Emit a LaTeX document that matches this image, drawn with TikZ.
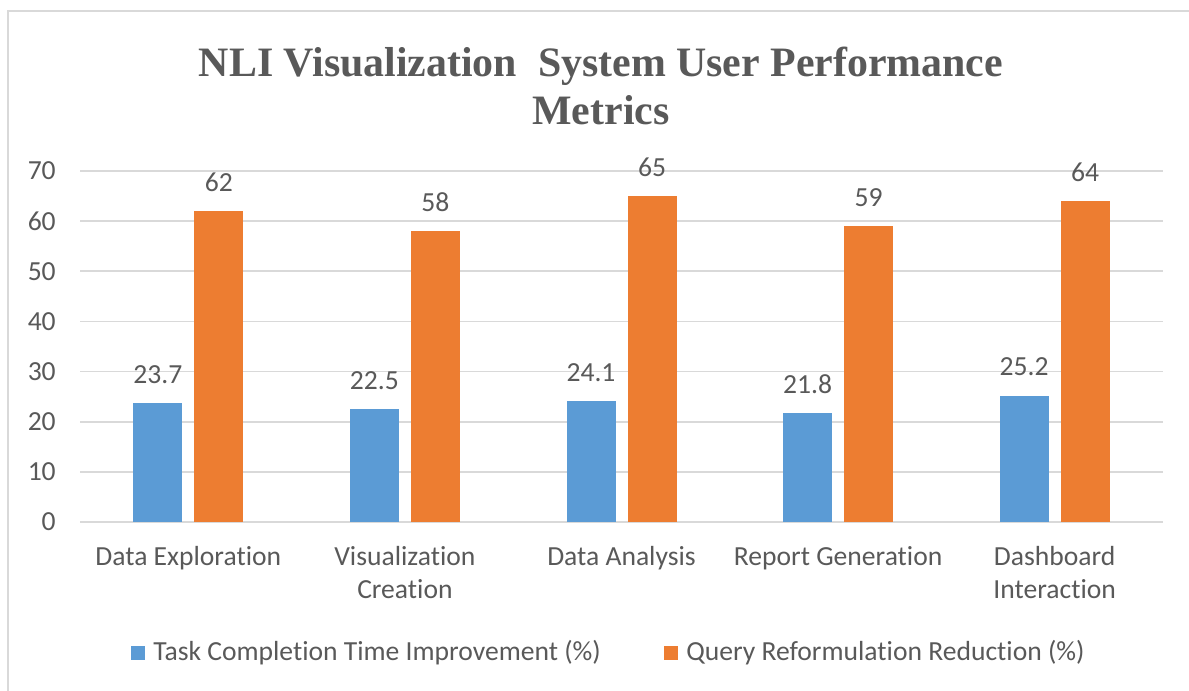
\documentclass[tikz,border=0pt]{standalone}
\usepackage{fontspec}
\setmainfont[Ligatures=NoCommon]{Carlito}
\newfontfamily\titlefont{Liberation Serif}
\definecolor{txtgray}{HTML}{595959}
\definecolor{gridgray}{HTML}{D9D9D9}
\definecolor{framegray}{HTML}{D9D9D9}
\definecolor{barblue}{HTML}{5B9BD5}
\definecolor{barorange}{HTML}{ED7D31}
\tikzset{
  lbl/.style={text=txtgray, font=\fontsize{20.7}{24.75}\selectfont, inner sep=0pt},
  ticklbl/.style={lbl, anchor=east},
  catlbl/.style={lbl, align=center, anchor=north},
  vallbl/.style={lbl},
  bluebar/.style={fill=barblue, draw=none},
  orangebar/.style={fill=barorange, draw=none},
  gridline/.style={draw=gridgray, line width=1.2pt},
  ttl/.style={text=txtgray, font=\titlefont\bfseries\fontsize{31.4}{36}\selectfont, align=center, inner sep=0pt},
}
\begin{document}
\begin{tikzpicture}[x=0.75pt, y=-0.75pt]
\useasboundingbox (0,0) rectangle (1189,691);
% chart frame (left and top edges)
\draw[framegray, line width=2pt] (8,691) -- (8,11) -- (1189,11);
% title
\node[ttl] (title) at (601,86) {NLI Visualization\ \ System User Performance\\Metrics};
% gridlines and tick labels
\foreach \v in {0,10,...,70} {
  \pgfmathsetmacro{\yy}{522-\v*5.014}
  \draw[gridline] (80,\yy) -- (1163,\yy);
  \node[ticklbl] (tick\v) at (56,\yy) {\v};
}
% bars, value labels, category labels
\foreach \i/\b/\o/\cat in {
  0/23.7/62/{Data Exploration},
  1/22.5/58/{Visualization\\Creation},
  2/24.1/65/{Data Analysis},
  3/21.8/59/{Report Generation},
  4/25.2/64/{Dashboard\\Interaction}} {
  \pgfmathsetmacro{\cx}{188.3+\i*216.6}
  \pgfmathsetmacro{\yb}{522-\b*5.014}
  \pgfmathsetmacro{\yo}{522-\o*5.014}
  \fill[bluebar] (\cx-55,522) rectangle (\cx-6,\yb);
  \fill[orangebar] (\cx+6,522) rectangle (\cx+55,\yo);
  \node[vallbl] (vb\i) at (\cx-30.5,\yb-29) {\b};
  \node[vallbl] (vo\i) at (\cx+30.5,\yo-29) {\o};
  \node[catlbl] (cat\i) at (\cx,546) {\cat};
}
% legend
\fill[barblue] (131,646) rectangle (145,660);
\node[lbl, anchor=west] (leg1) at (153,653) {Task Completion Time Improvement (\%)};
\fill[barorange] (664,646) rectangle (678,660);
\node[lbl, anchor=west] (leg2) at (686,653) {Query Reformulation Reduction (\%)};
\end{tikzpicture}
\end{document}
